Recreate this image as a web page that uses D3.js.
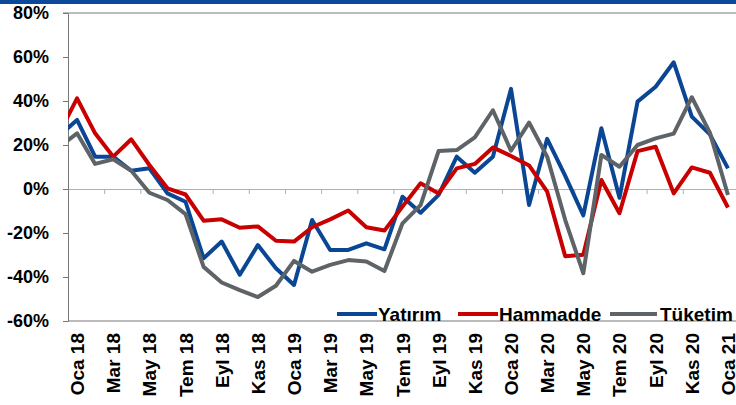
<!DOCTYPE html>
<meta charset="utf-8">
<style>
body { margin: 0; background: #fff; }
text { font-family: "Liberation Sans", Arial, sans-serif; font-weight: bold; fill: #000; }
.series { fill: none; stroke-width: 4; stroke-linejoin: round; }
</style>
<body>
<script src="https://d3js.org/d3.v7.min.js"></script>
<script>

// first entry (Ara 17) sits just left of the axis and is clipped away
var months = ['Ara 17',
    'Oca 18', 'Şub 18', 'Mar 18', 'Nis 18', 'May 18', 'Haz 18', 'Tem 18', 'Ağu 18', 'Eyl 18', 'Eki 18', 'Kas 18', 'Ara 18',
    'Oca 19', 'Şub 19', 'Mar 19', 'Nis 19', 'May 19', 'Haz 19', 'Tem 19', 'Ağu 19', 'Eyl 19', 'Eki 19', 'Kas 19', 'Ara 19',
    'Oca 20', 'Şub 20', 'Mar 20', 'Nis 20', 'May 20', 'Haz 20', 'Tem 20', 'Ağu 20', 'Eyl 20', 'Eki 20', 'Kas 20', 'Ara 20',
    'Oca 21']

var yatirim = [24,
    31.4, 14.7, 14.7, 8.3, 9.4, -2, -5.8, -31.5, -23.9, -39, -25.5, -36,
    -43.6, -14.1, -27.7, -27.7, -24.7, -27.4, -3.5, -10.8, -2.7, 14.7, 7.4, 14.7,
    45.5, -7.3, 22.8, 6, -12, 27.6, -4, 39.7, 46.5, 57.6, 32.9, 24.8,
    9.4]

var hammadde = [25,
    41.2, 25.3, 14.7, 22.6, 10.9, 0.3, -2.5, -14.4, -13.8, -17.6, -17, -23.5,
    -23.9, -17.4, -13.8, -9.8, -17.4, -18.9, -8, 2.6, -2, 9.4, 11.4, 18.9,
    15, 10.7, -1.2, -30.6, -29.9, 4.1, -11, 17.2, 19.2, -2, 9.8, 7.4,
    -8.4]

var tuketim = [19,
    25.3, 11.4, 13.5, 8.3, -1.7, -5, -11.4, -35.4, -42.5, -46, -49.1, -44,
    -32.7, -37.6, -34.5, -32.3, -33, -37.3, -15.6, -7.3, 17.3, 17.7, 23.5, 35.8,
    17.4, 30.2, 14.7, -14.1, -38.3, 15.5, 10.1, 20, 23, 25.2, 41.7, 25.6,
    -2.7]

var yTicks = [-60, -40, -20, 0, 20, 40, 60, 80]

var series = [
    { name: 'Yatırım', values: yatirim, color: '#0a4694' },
    { name: 'Hammadde', values: hammadde, color: '#c80000' },
    { name: 'Tüketim', values: tuketim, color: '#5e6368' }
]

const width = 736,
    height = 405,
    plotLeft = 68,
    plotRight = 737,
    plotTop = 13,
    plotBottom = 321

var svg = d3.select('body')
    .append('svg')
    .attr('width', width)
    .attr('height', height)

svg.append('rect')
    .attr('x', 0).attr('y', 0)
    .attr('width', width).attr('height', 4)
    .attr('fill', '#0b4a9a')

// month index i is centred in its band: Oca 18 is index 1
var x = d3.scaleLinear()
    .domain([0.5, months.length - 0.5])
    .range([plotLeft, plotRight])

var y = d3.scaleLinear()
    .domain([-60, 80])
    .range([plotBottom, plotTop])

svg.append('clipPath')
    .attr('id', 'plot')
    .append('rect')
    .attr('x', plotLeft).attr('y', plotTop)
    .attr('width', plotRight - plotLeft).attr('height', plotBottom - plotTop)

// top border
svg.append('line')
    .attr('x1', plotLeft - 5).attr('x2', width)
    .attr('y1', y(80)).attr('y2', y(80))
    .attr('stroke', '#777')

// zero line with category ticks every two months
var zero = svg.append('g')
    .attr('transform', 'translate(0,' + y(0) + ')')
    .call(d3.axisBottom(x)
        .tickValues(d3.range(2.5, months.length, 2))
        .tickSize(5)
        .tickSizeOuter(0)
        .tickFormat(''))
zero.select('.domain').attr('stroke', '#b0b0b0')
zero.selectAll('.tick line').attr('stroke', '#b0b0b0')

var yAxis = svg.append('g')
    .attr('transform', 'translate(' + plotLeft + ',0)')
    .call(d3.axisLeft(y)
        .tickValues(yTicks)
        .tickSize(5)
        .tickSizeOuter(0)
        .tickPadding(14)
        .tickFormat(function (d) { return d + '%' }))
yAxis.select('.domain').attr('stroke', '#777')
yAxis.selectAll('.tick line').attr('stroke', '#777')
yAxis.selectAll('.tick text')
    .style('font-size', '18px')
    .style('font-family', '"Liberation Sans", Arial, sans-serif')
    .style('font-weight', 'bold')
    .attr('fill', '#000')

svg.append('line')
    .attr('x1', plotLeft).attr('x2', width)
    .attr('y1', y(-60)).attr('y2', y(-60))
    .attr('stroke', '#777')

var line = d3.line()
    .x(function (d, i) { return x(i) })
    .y(function (d) { return y(d) })

svg.append('g')
    .attr('clip-path', 'url(#plot)')
    .selectAll('.series')
    .data(series)
    .enter().append('path')
    .attr('class', 'series')
    .attr('stroke', function (d) { return d.color })
    .attr('d', function (d) { return line(d.values) })

// month labels, every second month, rotated
svg.selectAll('.month')
    .data(d3.range(1, months.length, 2))
    .enter().append('text')
    .attr('class', 'month')
    .attr('transform', function (i) { return 'translate(' + (x(i) + 7) + ',333) rotate(-90)' })
    .attr('text-anchor', 'end')
    .style('font-size', '19px')
    .text(function (i) { return months[i] })

var legendPos = [337, 458, 610]
var legend = svg.selectAll('.legend')
    .data(series)
    .enter().append('g')
    .attr('class', 'legend')
    .attr('transform', function (d, i) { return 'translate(' + legendPos[i] + ',0)' })

legend.append('line')
    .attr('x1', 0).attr('x2', function (d, i) { return i == 2 ? 47 : 40 })
    .attr('y1', 314).attr('y2', 314)
    .attr('stroke', function (d) { return d.color })
    .attr('stroke-width', 4)

legend.append('text')
    .attr('x', function (d, i) { return i == 2 ? 50 : 41 })
    .attr('y', 321)
    .style('font-size', '19px')
    .text(function (d) { return d.name })

</script>
</body>
